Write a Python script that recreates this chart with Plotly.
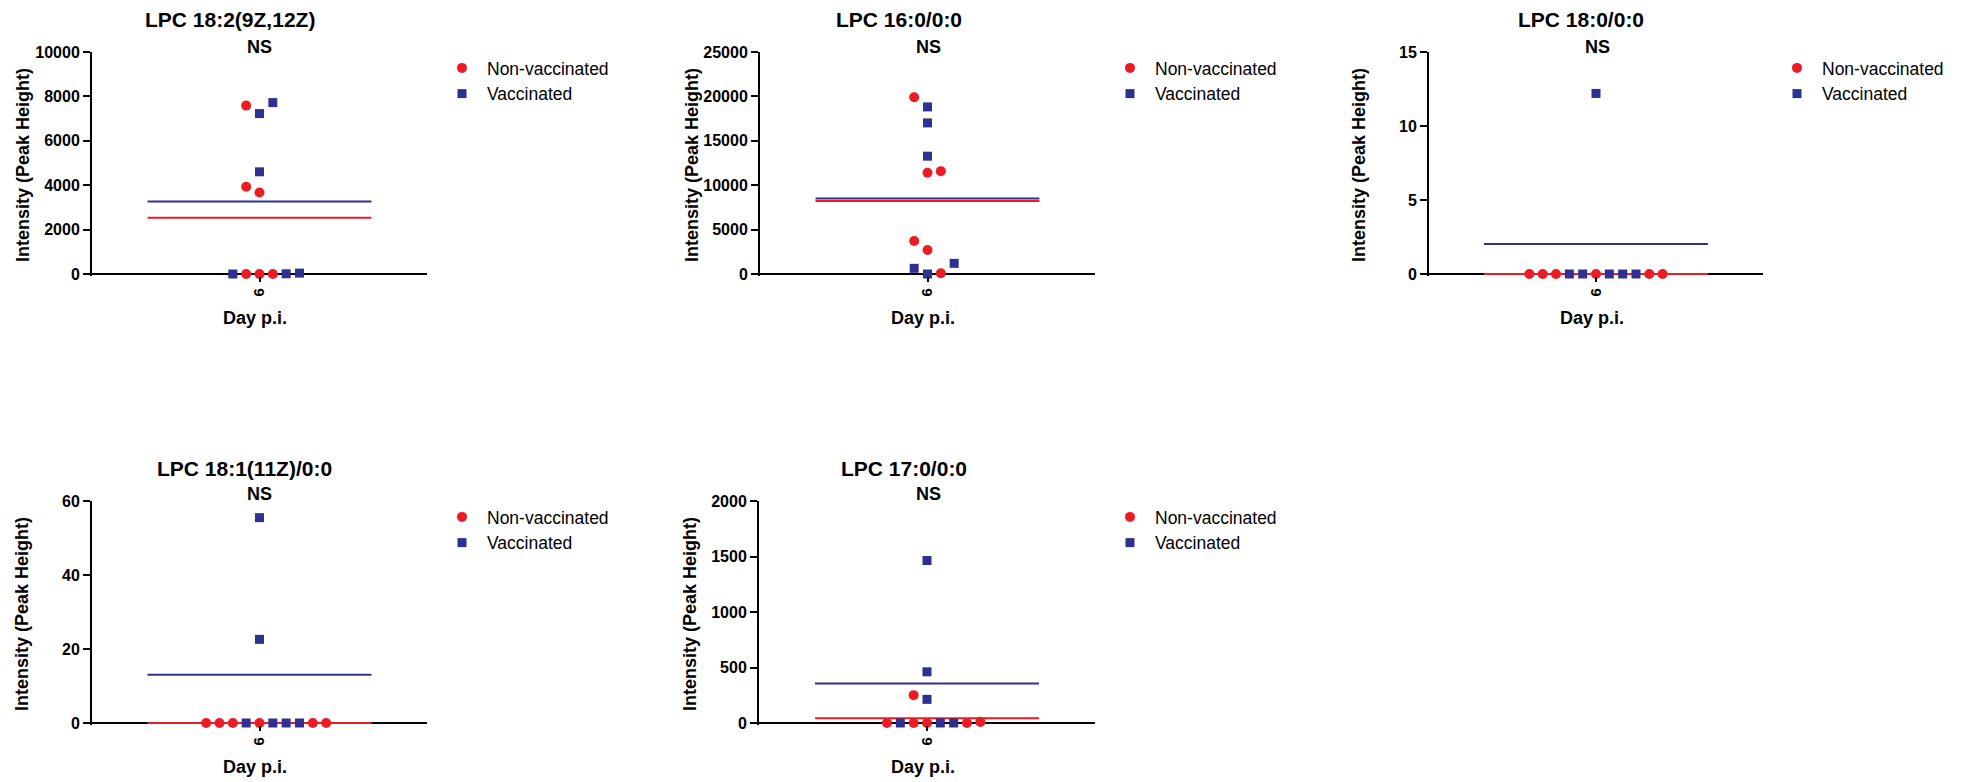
import numpy as np
import plotly.graph_objects as go

# ---------------- data ----------------
titles = ["LPC 18:2(9Z,12Z)", "LPC 16:0/0:0", "LPC 18:0/0:0", "LPC 18:1(11Z)/0:0", "LPC 17:0/0:0"]
significance = ["NS", "NS", "NS", "NS", "NS"]
day_label = "6"
x_title = "Day p.i."
y_title = "Intensity (Peak Height)"
group_names = ["Non-vaccinated", "Vaccinated"]

nonvacc_values = [
    [7586, 3928, 3673, 0, 0, 0],
    [19903, 11394, 11582, 3711, 2699, 75],
    [0, 0, 0, 0, 0, 0],
    [0, 0, 0, 0, 0, 0],
    [251, 0, 0, 0, 0, 10],
]
vacc_values = [
    [7226, 7721, 4603, 0, 10, 40],
    [18816, 17016, 13268, 637, 0, 1199],
    [12.2, 0, 0, 0, 0, 0],
    [55.5, 22.6, 0, 0, 0, 0],
    [1464, 461, 213, 0, 0, 0],
]
y_max = [10000, 25000, 15, 60, 2000]
y_dtick = [2000, 5000, 5, 20, 500]

# horizontal dodge slots of the scatter points (layout)
nonvacc_slots = [
    [-1, -1, 0, -1, 0, 1],
    [-1, 0, 1, -1, 0, 1],
    [-5, -4, -3, 0, 4, 5],
    [-4, -3, -2, 0, 4, 5],
    [-1, -3, -1, 0, 3, 4],
]
vacc_slots = [
    [0, 1, 0, -2, 2, 3],
    [0, 0, 0, -1, 0, 2],
    [0, -2, -1, 1, 2, 3],
    [0, 0, -1, 1, 2, 3],
    [0, 0, 0, -2, 1, 2],
]

# ---------------- styling / layout ----------------
RED = "#ED1C24"
BLUE = "#2E3192"
W, H = 1968, 782
FONT = "Liberation Sans, Arial, sans-serif"
SLOT_PX = 13.33
MEAN_HALF = 8.4  # in slot units

# panel geometry in pixels: x0, x1, top, zero
panels = [
    (92, 427, 52, 274),
    (760, 1095, 52, 274),
    (1429, 1763, 52, 274),
    (92, 427, 501, 723),
    (759, 1095, 501, 723),
]
title_pos = [(230, 20), (899, 20), (1581, 20), (244, 468), (904, 468)]
ns_pos = [(259, 47), (928, 47), (1597, 47), (259, 494), (928, 494)]
ytitle_pos = [(23, 165), (692, 165), (1359, 165), (22, 614), (690, 614)]
xtitle_pos = [(255, 318), (923, 318), (1592, 318), (255, 767), (923, 767)]
legend_pos = [(462, 67), (1130, 67), (1797, 67), (462, 516), (1130, 516)]

DELTA = 0.01

def px_x(p):
    return p / W

def px_y(p):
    return 1 - p / H

fig = go.Figure()
layout = dict(
    width=W, height=H,
    margin=dict(l=0, r=0, t=0, b=0, pad=0, autoexpand=False),
    paper_bgcolor="white", plot_bgcolor="white",
    font=dict(family=FONT, color="black"),
    annotations=[],
)

for i in range(5):
    x0, x1, top, zero = panels[i]
    sfx = "" if i == 0 else str(i + 1)
    xa, ya = "x" + sfx, "y" + sfx
    leg = "legend" + sfx
    half = (x1 - x0) / 2 / SLOT_PX
    ymax = y_max[i]
    bottom = zero + DELTA * (zero - top)

    layout["xaxis" + sfx] = dict(
        domain=[px_x(x0), px_x(x1)], anchor=ya, range=[-half, half],
        showline=False, zeroline=False, showgrid=False,
        ticks="outside", ticklen=5, tickwidth=2, tickcolor="black",
        tickvals=[0], ticktext=[day_label], tickangle=-90,
        tickfont=dict(family=FONT, size=15, weight="bold", color="black"),
        fixedrange=True, automargin=False,
    )
    layout["yaxis" + sfx] = dict(
        domain=[px_y(bottom), px_y(top)], anchor=xa,
        range=[-DELTA * ymax, ymax],
        showline=True, linecolor="black", linewidth=2,
        zeroline=True, zerolinecolor="black", zerolinewidth=2,
        showgrid=False,
        ticks="outside", ticklen=7, tickwidth=2, tickcolor="black",
        tick0=0, dtick=y_dtick[i], tickformat="d",
        tickfont=dict(family=FONT, size=16, weight="bold", color="black"),
        fixedrange=True, automargin=False,
    )

    nv = np.array(nonvacc_values[i], dtype=float)
    vv = np.array(vacc_values[i], dtype=float)
    for vals, col in ((vv, BLUE), (nv, RED)):
        m = float(np.mean(vals))
        fig.add_trace(go.Scatter(
            x=[-MEAN_HALF, MEAN_HALF], y=[m, m], mode="lines",
            line=dict(color=col, width=2), showlegend=False,
            xaxis=xa, yaxis=ya, hoverinfo="skip",
        ))
    fig.add_trace(go.Scatter(
        x=nonvacc_slots[i], y=nv, mode="markers", name=group_names[0],
        marker=dict(symbol="circle", size=10, color=RED),
        xaxis=xa, yaxis=ya, cliponaxis=False, legend=leg,
    ))
    fig.add_trace(go.Scatter(
        x=vacc_slots[i], y=vv, mode="markers", name=group_names[1],
        marker=dict(symbol="square", size=9, color=BLUE),
        xaxis=xa, yaxis=ya, cliponaxis=False, legend=leg,
    ))

    lx, ly = legend_pos[i]
    layout[leg] = dict(
        x=px_x(lx - 25), y=px_y(ly - 17), xanchor="left", yanchor="top",
        font=dict(family=FONT, size=17.5, color="black"),
        bgcolor="rgba(0,0,0,0)", borderwidth=0, itemwidth=40,
    )

    tx, ty = title_pos[i]
    layout["annotations"].append(dict(
        x=px_x(tx), y=px_y(ty), xref="paper", yref="paper", showarrow=False,
        text=titles[i], xanchor="center", yanchor="middle",
        font=dict(family=FONT, size=21, weight="bold", color="black"),
    ))
    nx, ny = ns_pos[i]
    layout["annotations"].append(dict(
        x=px_x(nx), y=px_y(ny), xref="paper", yref="paper", showarrow=False,
        text=significance[i], xanchor="center", yanchor="middle",
        font=dict(family=FONT, size=18, weight="bold", color="black"),
    ))
    yx, yy = ytitle_pos[i]
    layout["annotations"].append(dict(
        x=px_x(yx), y=px_y(yy), xref="paper", yref="paper", showarrow=False,
        text=y_title, textangle=-90, xanchor="center", yanchor="middle",
        font=dict(family=FONT, size=18, weight="bold", color="black"),
    ))
    xx, xy = xtitle_pos[i]
    layout["annotations"].append(dict(
        x=px_x(xx), y=px_y(xy), xref="paper", yref="paper", showarrow=False,
        text=x_title, xanchor="center", yanchor="middle",
        font=dict(family=FONT, size=18, weight="bold", color="black"),
    ))

fig.update_layout(**layout)
fig.write_html("out.html")
